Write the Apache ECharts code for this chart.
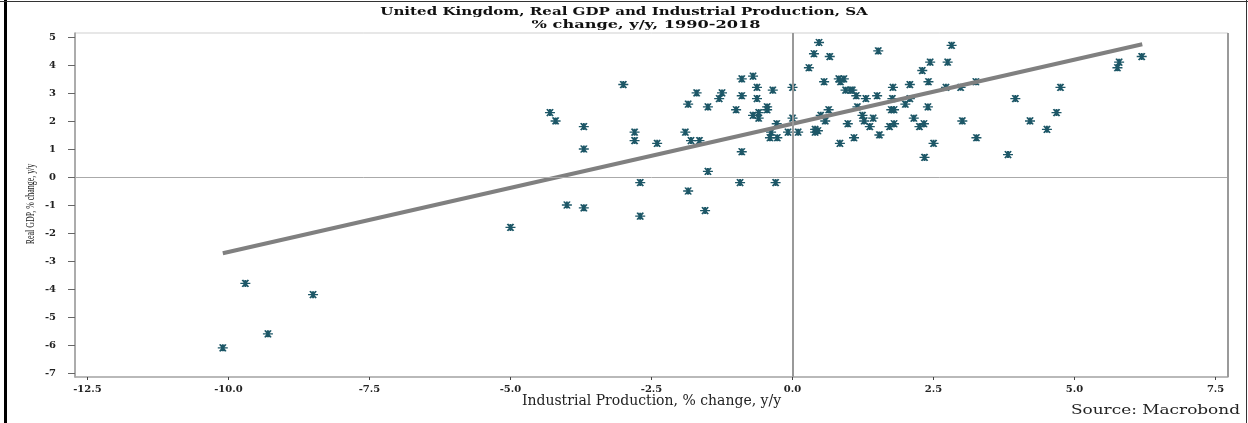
<!DOCTYPE html>
<html><head><meta charset="utf-8">
<script src="https://cdn.jsdelivr.net/npm/echarts@6/dist/echarts.min.js"></script>
<style>html,body{margin:0;padding:0;background:#fff}#c{width:1248px;height:423px}</style>
</head><body><div id="c"></div>
<script>
const titleText = 'United Kingdom, Real GDP and Industrial Production, SA';
const subtitleText = '% change, y/y, 1990-2018';
const xAxisName = 'Industrial Production, % change, y/y';
const yAxisName = 'Real GDP, % change, y/y';
const sourceText = 'Source: Macrobond';
const xTicks = [-12.5, -10, -7.5, -5, -2.5, 0, 2.5, 5, 7.5];
const yTicks = [-7, -6, -5, -4, -3, -2, -1, 0, 1, 2, 3, 4, 5];

// Industrial production % y/y (x) and real GDP % y/y (y)
const ipChange = [
  -10.1, -9.7, -9.3, -8.5, -5.0, -4.3, -4.2, -3.7, -3.7, -4.0,
  -3.7, -3.0, -2.8, -2.8, -2.4, -2.7, -2.7, -1.9, -1.8, -1.65,
  -1.85, -1.55, -1.5, -1.7, -1.85, -1.5, -1.25, -1.3, -0.9, -0.7,
  -0.9, -0.63, -0.63, -0.35, -1.0, -0.45, -0.45, -0.6, -0.7, -0.6,
  -0.9, -0.93, -0.3, -0.28, -0.38, -0.4, -0.27, -0.08, 0.1, 0.0,
  0.0, 0.47, 0.38, 0.66, 0.29, 0.56, 0.82, 0.91, 0.85, 0.94,
  1.03, 0.64, 0.5, 0.58, 0.4, 0.4, 0.45, 0.84, 0.98, 1.09,
  1.52, 1.13, 1.3, 1.5, 1.78, 1.77, 2.08, 1.15, 1.75, 1.8,
  2.0, 2.4, 1.24, 1.43, 1.27, 1.37, 1.72, 1.8, 2.15, 2.25,
  2.33, 1.54, 2.5, 2.34, 2.82, 2.44, 2.75, 2.3, 2.41, 2.08,
  2.72, 2.98, 3.25, 3.01, 3.26, 3.82, 3.95, 4.21, 4.51, 4.68,
  4.75, 5.79, 5.76, 6.19, 1.06
];
const gdpChange = [
  -6.1, -3.8, -5.6, -4.2, -1.8, 2.3, 2.0, 1.8, 1.0, -1.0,
  -1.1, 3.3, 1.6, 1.3, 1.2, -0.2, -1.4, 1.6, 1.3, 1.3,
  -0.5, -1.2, 0.2, 3.0, 2.6, 2.5, 3.0, 2.8, 3.5, 3.6,
  2.9, 3.2, 2.8, 3.1, 2.4, 2.5, 2.4, 2.3, 2.2, 2.1,
  0.9, -0.2, -0.2, 1.9, 1.6, 1.4, 1.4, 1.6, 1.6, 3.2,
  2.1, 4.8, 4.4, 4.3, 3.9, 3.4, 3.5, 3.5, 3.4, 3.1,
  3.1, 2.4, 2.2, 2.0, 1.7, 1.6, 1.65, 1.2, 1.9, 1.4,
  4.5, 2.9, 2.8, 2.9, 3.2, 2.8, 2.8, 2.5, 2.4, 2.4,
  2.6, 2.5, 2.2, 2.1, 2.0, 1.8, 1.8, 1.9, 2.1, 1.8,
  1.9, 1.5, 1.2, 0.7, 4.7, 4.1, 4.1, 3.8, 3.4, 3.3,
  3.2, 3.2, 3.4, 2.0, 1.4, 0.8, 2.8, 2.0, 1.7, 2.3,
  3.2, 4.1, 3.9, 4.3, 3.1
];
// Regression line end points
const fitX = [-10.1, 6.2];
const fitY = [-2.72, 4.74];

const xMin = -12.72, xMax = 7.72, yMin = -7.14, yMax = 5.14;

const points = ipChange.map((x, i) => [x, gdpChange[i]]);
const fitLine = fitX.map((x, i) => [x, fitY[i]]);

const serif = "'DejaVu Serif', 'Liberation Serif', serif";
const chart = echarts.init(document.getElementById('c'), null, {renderer: 'canvas'});
chart.setOption({
  animation: false,
  backgroundColor: '#fff',
  graphic: [
    {type: 'text', x: 624, y: 12.5, scaleX: 1.37, z: 10,
     style: {text: titleText, x: 0, y: 0, align: 'center', verticalAlign: 'middle',
             font: "bold 11px 'DejaVu Serif'", fill: '#111'}},
    {type: 'text', x: 646, y: 25, scaleX: 1.47, z: 10,
     style: {text: subtitleText, x: 0, y: 0, align: 'center', verticalAlign: 'middle',
             font: "bold 11px 'DejaVu Serif'", fill: '#111'}},
    {type: 'text', x: 1240, y: 411, scaleX: 1.3, z: 10,
     style: {text: sourceText, x: 0, y: 0, align: 'right', verticalAlign: 'middle',
             font: "13px 'DejaVu Serif'", fill: '#222'}},
    {type: 'text', x: 31, y: 204, rotation: Math.PI / 2, scaleX: 0.66, z: 10,
     style: {text: yAxisName, x: 0, y: 0, align: 'center', verticalAlign: 'middle',
             font: "12px 'Liberation Serif'", fill: '#222'}},
    {type: 'rect', shape: {x: 4, y: 0, width: 3, height: 423}, style: {fill: '#000'}},
    {type: 'line', shape: {x1: 0, y1: 1.5, x2: 1248, y2: 1.5}, style: {stroke: '#333', lineWidth: 1}},
    {type: 'line', shape: {x1: 1246.5, y1: 0, x2: 1246.5, y2: 423}, style: {stroke: '#333', lineWidth: 1}}
  ],
  grid: {left: 75, right: 20, top: 33, bottom: 46, show: true, borderColor: '#cfcfcf', borderWidth: 1},
  xAxis: {
    type: 'value', min: xMin, max: xMax,
    name: xAxisName, nameLocation: 'middle', nameGap: 17, nameMoveOverlap: false,
    nameTextStyle: {fontFamily: serif, fontSize: 14, color: '#222'},
    axisLine: {show: true, onZero: false, lineStyle: {color: '#aaa', width: 1.5}},
    axisTick: {show: true, length: 3, customValues: xTicks, lineStyle: {color: '#444'}},
    axisLabel: {customValues: xTicks, formatter: v => v.toFixed(1), margin: 7,
      fontFamily: serif, fontSize: 10, fontWeight: 'bold', color: '#222'},
    splitLine: {show: false}
  },
  yAxis: {
    type: 'value', min: yMin, max: yMax,
    axisLine: {show: true, onZero: false, lineStyle: {color: '#999', width: 1.5}},
    axisTick: {show: true, length: 7, customValues: yTicks, lineStyle: {color: '#666'}},
    axisLabel: {customValues: yTicks, margin: 19,
      fontFamily: serif, fontSize: 10, fontWeight: 'bold', color: '#222'},
    splitLine: {show: false}
  },
  series: [
    {
      type: 'scatter', data: points, z: 3,
      symbol: 'path://M0,5L10,5M5,1.5L5,8.5M2,1.5L8,8.5M8,1.5L2,8.5',
      symbolSize: [10, 7],
      itemStyle: {color: 'rgba(0,0,0,0)', borderColor: '#1d5767', borderWidth: 1.6, opacity: 1},
      markLine: {
        silent: true, symbol: 'none', label: {show: false},
        data: [
          {xAxis: 0, lineStyle: {color: '#999', width: 2, type: 'solid'}},
          {yAxis: 0, lineStyle: {color: '#aaa', width: 1, type: 'solid'}},
          {xAxis: xMax, lineStyle: {color: '#9a9a9a', width: 2, type: 'solid'}}
        ]
      }
    },
    {
      type: 'line', data: fitLine, z: 4, symbol: 'none',
      lineStyle: {color: '#808080', width: 4}
    }
  ]
});
</script></body></html>
